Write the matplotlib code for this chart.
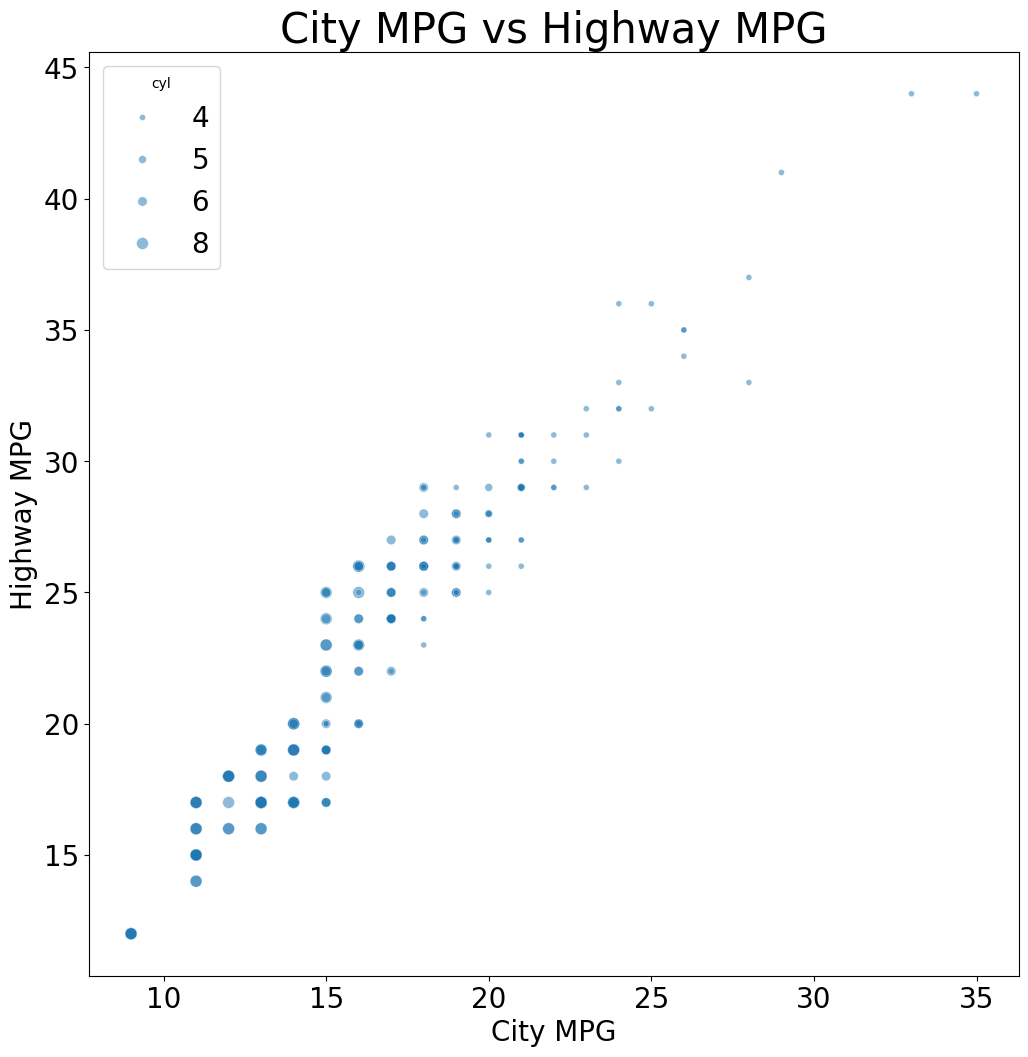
import numpy as np
import pandas as pd
import matplotlib
matplotlib.use("Agg")
import matplotlib.pyplot as plt
import seaborn as sns

# Aggregated points: (city mpg, highway mpg, cylinders, number of cars)
cty = [9, 11, 11, 11, 11, 12, 12, 12, 13, 13, 13, 13, 13,
       14, 14, 14, 14, 14, 14, 15, 15, 15, 15, 15, 15, 15, 15, 15, 15, 15, 15, 15, 15, 15,
       16, 16, 16, 16, 16, 16, 16, 16, 16, 16, 16,
       17, 17, 17, 17, 17, 17,
       18, 18, 18, 18, 18, 18, 18, 18, 18, 18, 18,
       19, 19, 19, 19, 19, 19, 19, 19, 19,
       20, 20, 20, 20, 20, 20, 20,
       21, 21, 21, 21, 21, 21,
       22, 22, 22, 23, 23, 23,
       24, 24, 24, 24, 25, 25, 26, 26, 28, 28, 29, 33, 35]
hwy = [12, 14, 15, 16, 17, 16, 17, 18, 16, 17, 18, 19, 19,
       17, 17, 18, 19, 20, 20, 17, 18, 19, 20, 20, 21, 21, 22, 22, 23, 24, 24, 25, 25, 20,
       20, 20, 22, 23, 23, 24, 25, 25, 26, 26, 23,
       22, 22, 24, 25, 26, 27,
       23, 24, 25, 25, 26, 26, 27, 27, 28, 29, 29,
       25, 25, 26, 26, 27, 27, 28, 28, 29,
       25, 26, 27, 28, 28, 29, 31,
       26, 27, 29, 29, 30, 31,
       29, 30, 31, 29, 31, 32,
       30, 32, 33, 36, 32, 36, 34, 35, 33, 37, 41, 44, 44]
cyl = [8, 8, 8, 8, 8, 8, 8, 8, 8, 8, 8, 6, 8,
       6, 8, 6, 8, 8, 6, 6, 6, 6, 6, 4, 8, 6, 8, 6, 8, 8, 6, 8, 6, 4,
       4, 6, 6, 6, 8, 6, 8, 4, 8, 6, 6,
       6, 4, 6, 6, 6, 6,
       4, 4, 6, 4, 6, 4, 6, 4, 6, 6, 4,
       6, 4, 4, 6, 4, 6, 6, 4, 4,
       4, 4, 4, 4, 5, 5, 4,
       4, 4, 4, 5, 4, 4,
       4, 4, 4, 4, 4, 4,
       4, 4, 4, 4, 4, 4, 4, 4, 4, 4, 4, 4, 4]
count = [5, 2, 9, 3, 4, 2, 1, 5, 2, 8, 3, 2, 2,
         6, 3, 1, 4, 3, 1, 3, 1, 5, 1, 1, 1, 1, 2, 1, 2, 1, 1, 1, 2, 1,
         2, 2, 2, 2, 1, 2, 1, 1, 2, 3, 1,
         1, 1, 7, 3, 4, 1,
         1, 2, 1, 1, 9, 1, 2, 1, 1, 1, 2,
         2, 2, 6, 1, 3, 1, 2, 1, 1,
         1, 1, 3, 2, 1, 1, 1,
         1, 2, 10, 2, 2, 4,
         2, 1, 1, 1, 1, 1,
         1, 2, 1, 1, 1, 1, 1, 2, 1, 1, 1, 1, 1]

df = pd.DataFrame({
    "cty": np.repeat(cty, count),
    "hwy": np.repeat(hwy, count),
    "cyl": np.repeat(cyl, count),
})

fig, ax = plt.subplots(figsize=(12, 12), dpi=100)
sns.scatterplot(data=df, x="cty", y="hwy", size="cyl", alpha=0.5, ax=ax)
ax.set_title("City MPG vs Highway MPG", fontsize=30)
ax.set_xlabel("City MPG", fontsize=20)
ax.set_ylabel("Highway MPG", fontsize=20)
ax.tick_params(axis="both", labelsize=20)
sns.move_legend(ax, "upper left", fontsize=20)
fig.savefig("out.png", dpi=100, bbox_inches="tight")
